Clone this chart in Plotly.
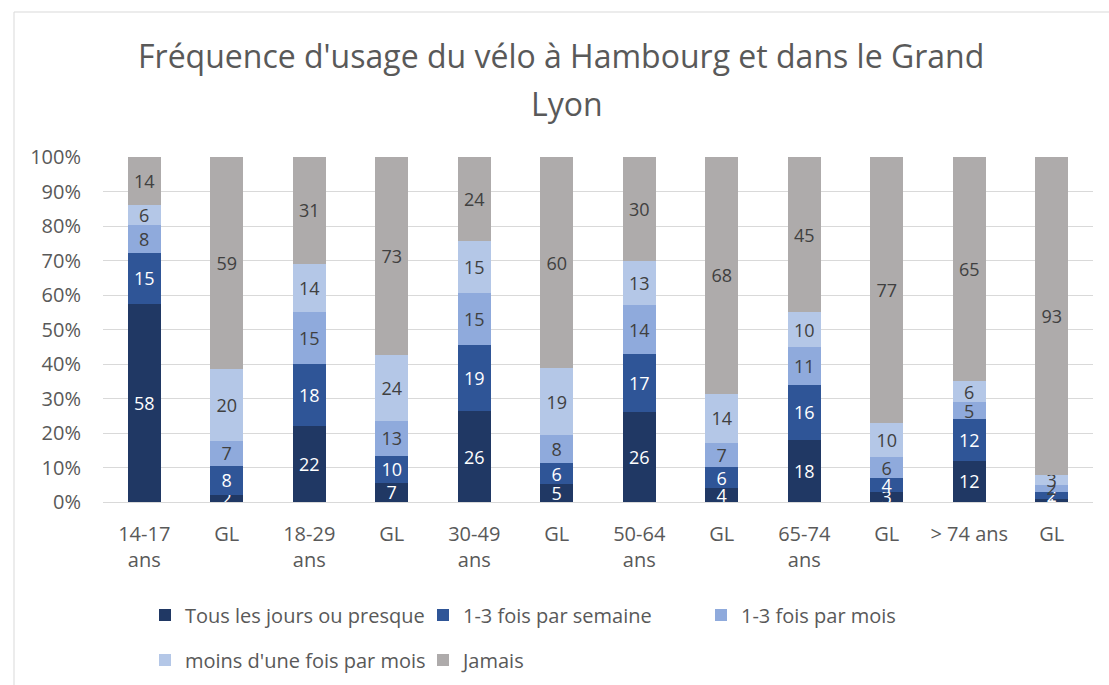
import plotly.graph_objects as go

# Age groups, each followed by the Grand Lyon (GL) comparison bar
categories = ["14-17<br>ans", "GL", "18-29<br>ans", "GL", "30-49<br>ans", "GL",
              "50-64<br>ans", "GL", "65-74<br>ans", "GL", "> 74 ans", "GL"]

series_names = ["Tous les jours ou presque", "1-3 fois par semaine", "1-3 fois par mois",
                "moins d'une fois par mois", "Jamais"]

tous_les_jours = [58, 2, 22, 7, 26, 5, 26, 4, 18, 3, 12, 1]
par_semaine = [15, 8, 18, 10, 19, 6, 17, 6, 16, 4, 12, 2]
par_mois = [8, 7, 15, 13, 15, 8, 14, 7, 11, 6, 5, 2]
moins_une_fois = [6, 20, 14, 24, 15, 19, 13, 14, 10, 10, 6, 3]
jamais = [14, 59, 31, 73, 24, 60, 30, 68, 45, 77, 65, 93]

values = [tous_les_jours, par_semaine, par_mois, moins_une_fois, jamais]
colors = ["#203864", "#2F5597", "#8FAADC", "#B4C7E7", "#AEABAB"]
text_colors = ["white", "white", "#404040", "#404040", "#404040"]
# first three series in the top legend row, the rest in the second row
legend_rows = ["legend", "legend", "legend", "legend2", "legend2"]

title_lines = ["Fréquence d'usage du vélo à Hambourg et dans le Grand", "Lyon"]

FONT = "Open Sans"
GREY = "#595959"
W, H = 1109, 685

x = list(range(len(categories)))

fig = go.Figure()
for name, vals, col, tcol, leg in zip(series_names, values, colors, text_colors, legend_rows):
    fig.add_trace(go.Bar(
        x=x, y=vals, name=name, legend=leg,
        marker=dict(color=col, line=dict(width=0)),
        text=vals, texttemplate="%{text}",
        textposition="inside", insidetextanchor="middle", textangle=0,
        textfont=dict(color=tcol, size=18, family=FONT),
        hoverinfo="skip",
    ))

legend_common = dict(
    orientation="h", xref="container", x=145 / W, xanchor="left",
    yref="container", yanchor="middle",
    entrywidth=233, entrywidthmode="pixels",
    font=dict(size=20, color=GREY, family=FONT), traceorder="normal",
    itemwidth=30, bgcolor="rgba(0,0,0,0)",
)

fig.update_layout(
    barmode="stack",
    barnorm="percent",
    bargap=0.6,
    width=W, height=H,
    margin=dict(l=103, r=16, t=157, b=183),
    paper_bgcolor="white", plot_bgcolor="white",
    font=dict(family=FONT, color=GREY, size=19),
    uniformtext=dict(minsize=18, mode="show"),
    title=dict(
        text=title_lines[0],
        x=0.506, xanchor="center", yref="container", y=1 - 57 / H, yanchor="middle",
        font=dict(family=FONT, size=32, color=GREY),
    ),
    annotations=[dict(
        text=title_lines[1], xref="paper", yref="paper",
        x=(567 - 103) / 990, y=(502 - 103) / 345, xanchor="center", yanchor="middle",
        showarrow=False, font=dict(family=FONT, size=32, color=GREY),
    )],
    xaxis=dict(
        tickmode="array", tickvals=x, ticktext=categories,
        range=[-0.5, len(categories) - 0.5],
        showgrid=False, showline=True, linecolor="#D9D9D9", linewidth=1,
        ticks="", tickfont=dict(size=20, color=GREY), ticklabelstandoff=14,
    ),
    yaxis=dict(
        range=[0, 100], dtick=10, ticksuffix="%",
        showgrid=True, gridcolor="#D9D9D9", gridwidth=1,
        zeroline=False, showline=False, ticks="",
        tickfont=dict(size=20, color=GREY), ticklabelstandoff=21,
    ),
    legend=dict(legend_common, y=1 - 615 / H),
    legend2=dict(legend_common, y=1 - 660 / H),
    shapes=[dict(
        type="rect", xref="paper", yref="paper",
        x0=(14 - 103) / 990, x1=(1130 - 103) / 990,
        y0=(502 - 700) / 345, y1=(502 - 12) / 345,
        line=dict(color="#D9D9D9", width=1), fillcolor="rgba(0,0,0,0)",
        layer="above",
    )],
)

fig.write_html("out.html")
